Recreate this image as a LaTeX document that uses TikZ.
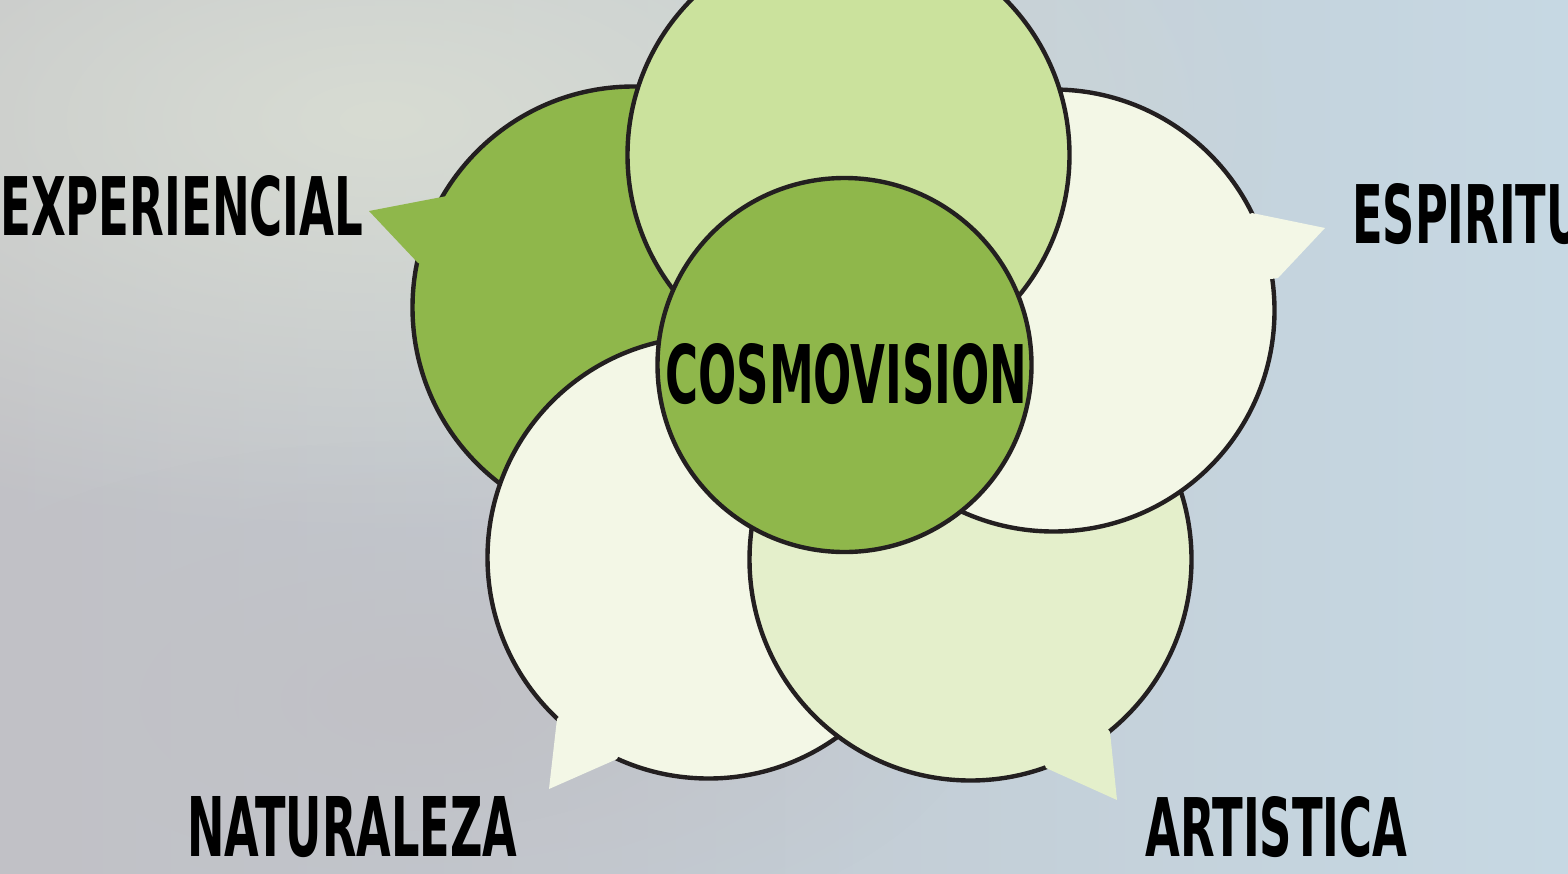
\documentclass[tikz,border=0pt]{standalone}
\usepackage{fontspec}
\usepackage{graphicx}
\usepackage{tikz}
\usetikzlibrary{fadings}
\newfontfamily\lblfont{DejaVu Sans Condensed}
\definecolor{bgleft}{HTML}{D8DCD3}
\definecolor{bgright}{HTML}{C6D8E3}
\definecolor{bggray}{HTML}{C1C1C6}
\definecolor{ink}{HTML}{231F20}
\definecolor{leaf}{HTML}{8FB74B}
\definecolor{lime}{HTML}{CBE29D}
\definecolor{pale}{HTML}{F3F7E6}
\definecolor{mint}{HTML}{E4EFCB}
\tikzfading[name=blobfade, inner color=transparent!0, outer color=transparent!100]
\newcommand{\capword}[2]{\resizebox{#1}{15mm}{\lblfont\bfseries #2}}
\tikzset{
  bubble/.style={circle, draw=ink, line width=1.1mm, minimum size=110.5mm, inner sep=0pt},
  core/.style={circle, draw=ink, line width=1.1mm, fill=leaf, minimum size=93.5mm, inner sep=0pt},
  lbl/.style={inner sep=0pt, anchor=south west, text=black}
}

\begin{document}
\begin{tikzpicture}[x=0.25mm, y=-0.25mm]
  \clip (0,0) rectangle (1568,873);
  \fill[left color=bggray, right color=bgright] (0,0) rectangle (1568,873);
  \fill[bgleft, path fading=blobfade] (380,120) ellipse (900 and 420);
  \fill[bggray, path fading=blobfade] (420,700) ellipse (560 and 260);

  \coordinate (expP) at (369,211);
  \coordinate (espP) at (1325,228);
  \coordinate (natP) at (549,789);
  \coordinate (artP) at (1117,800);

  \node[bubble, fill=leaf] (expc) at (633.5,307.5) {};
  \fill[leaf] (expP) -- (447,196) -- (expc.center) -- (418,263) -- cycle;

  \node[bubble, fill=pale] (natc) at (708.5,557.5) {};
  \fill[pale] (natP) -- (557,719) -- (natc.center) -- (617,759) -- cycle;

  \node[bubble, fill=mint] (artc) at (970.5,559.5) {};
  \fill[mint] (artP) -- (1110,732) -- (artc.center) -- (1046,768) -- cycle;

  \node[bubble, fill=pale] (espc) at (1053.5,310.5) {};
  \fill[pale] (espP) -- (1252,213) -- (espc.center) -- (1278,278) -- cycle;

  \node[bubble, fill=lime] (cimac) at (848.5,155) {};

  \node[core] (cosmo) at (844.5,365) {};

  \node[lbl] (cosmoT) at (665,405) {\capword{90.5mm}{COSMOVISION}};
  \node[lbl] (expT) at (0,237) {\capword{90.75mm}{EXPERIENCIAL}};
  \node[lbl] (espT) at (1352,245) {\capword{73mm}{ESPIRITUAL}};
  \node[lbl] (natT) at (187,858) {\capword{82.5mm}{NATURALEZA}};
  \node[lbl] (artT) at (1145,858) {\capword{65.5mm}{ARTISTICA}};
\end{tikzpicture}
\end{document}
